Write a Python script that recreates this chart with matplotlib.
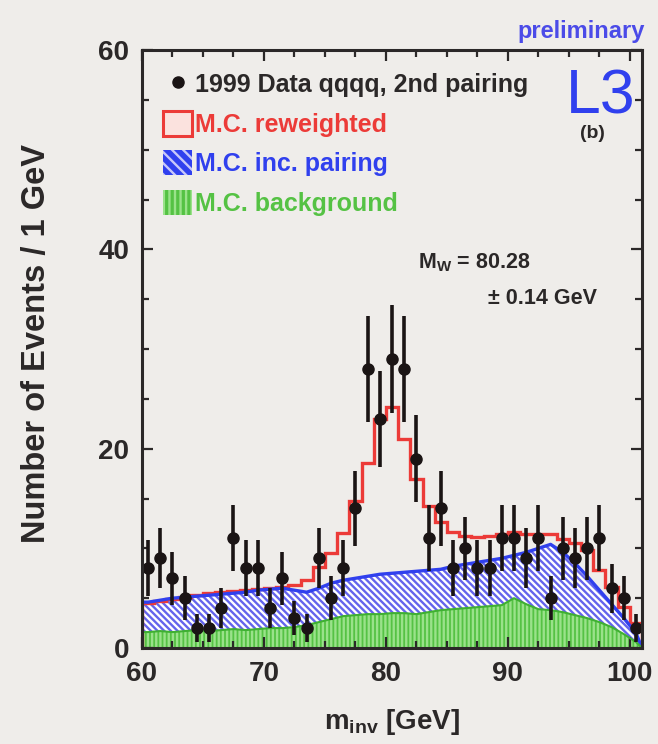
import numpy as np
import matplotlib
matplotlib.use("Agg")
import matplotlib.pyplot as plt
from matplotlib.patches import Patch
from matplotlib.lines import Line2D

plt.rcParams['font.family'] = ['Liberation Sans', 'DejaVu Sans']
plt.rcParams['mathtext.fontset'] = 'custom'
plt.rcParams['mathtext.rm'] = 'Liberation Sans:bold'
plt.rcParams['mathtext.bf'] = 'Liberation Sans:bold'
plt.rcParams['hatch.linewidth'] = 1.7

# 1 GeV bins from 60 to 101 GeV
edges = np.arange(60, 102, 1)
centers = edges[:-1] + 0.5

# data, 2nd pairing
counts = [8, 9, 7, 5, 2, 2, 4, 11, 8, 8, 4, 7, 3, 2, 9, 5, 8, 14, 28, 23,
          29, 28, 19, 11, 14, 8, 10, 8, 8, 11, 11, 9, 11, 5, 10, 9, 10, 11, 6, 5, 2]

# M.C. reweighted (total)
mc_rew = [4.5, 4.7, 4.9, 5.1, 5.3, 5.5, 5.6, 5.7, 5.8, 5.9, 6.0, 6.1, 6.3, 6.8, 8.1,
          9.5, 11.5, 14.8, 18.6, 23.0, 24.2, 21.0, 17.0, 14.2, 12.6, 11.6, 11.2, 11.1,
          11.2, 11.4, 11.6, 11.4, 11.4, 11.4, 10.9, 10.5, 9.8, 7.8, 6.1, 4.1, 2.5]

# M.C. incorrect pairing (stacked on background)
mc_inc = [4.6, 4.8, 5.0, 5.1, 5.2, 5.3, 5.4, 5.5, 5.6, 5.8, 5.9, 6.0, 5.8, 5.6, 6.0,
          6.5, 6.8, 7.0, 7.2, 7.4, 7.5, 7.6, 7.7, 7.8, 7.9, 8.2, 8.4, 8.6, 8.8, 9.0,
          9.3, 9.6, 10.0, 10.4, 9.6, 8.5, 7.2, 5.8, 4.4, 3.0, 1.5]

# M.C. background
mc_bkg = [1.6, 1.7, 1.6, 1.7, 1.8, 1.7, 1.8, 1.9, 1.8, 1.9, 2.0, 2.0, 2.1, 2.3, 2.6,
          2.9, 3.2, 3.3, 3.4, 3.4, 3.5, 3.5, 3.4, 3.6, 3.8, 3.9, 4.0, 4.1, 4.2, 4.3,
          5.0, 4.4, 3.9, 3.8, 3.6, 3.3, 3.0, 2.6, 2.1, 1.4, 0.6]

counts = np.array(counts)
mc_rew = np.array(mc_rew)
mc_inc = np.array(mc_inc)
mc_bkg = np.array(mc_bkg)

bg = '#efedea'
red = '#ec3b38'
blue = '#3040ee'
hatch_blue = '#6464ec'
green = '#55c244'
hatch_green = '#9ae28a'
ink = '#2b2828'

fig = plt.figure(figsize=(6.58, 7.44), dpi=100, facecolor=bg)
ax = fig.add_axes([0.2158, 0.129, 0.760, 0.8038], facecolor=bg)

# MC shapes drawn through bin centres
xs = np.concatenate([[edges[0]], centers, [edges[-1]]])
inc_y = np.concatenate([[mc_inc[0]], mc_inc, [0]])
bkg_y = np.concatenate([[mc_bkg[0]], mc_bkg, [0]])

ax.fill_between(xs, 0, inc_y, facecolor='white', edgecolor=hatch_blue,
                hatch='\\' * 5, linewidth=0)
ax.plot(xs, inc_y, color=blue, lw=2.4)
ax.fill_between(xs, 0, bkg_y, facecolor=green, edgecolor=hatch_green,
                hatch='|' * 4, linewidth=0)
ax.plot(xs, bkg_y, color='#3fb032', lw=1.5)

# reweighted histogram outline
ax.stairs(mc_rew, edges, color=red, lw=2.4, baseline=0)

# data points
ax.errorbar(centers, counts, yerr=np.sqrt(counts), fmt='o', color='#1a1414',
            ms=8, elinewidth=2.6, capsize=0)

ax.set_xlim(60, 101)
ax.set_ylim(0, 60)
ax.set_xticks([60, 70, 80, 90, 100])
ax.set_xticks(np.arange(60, 100.1, 2.5), minor=True)
ax.set_yticks([0, 20, 40, 60])
ax.set_yticks(np.arange(0, 61, 5), minor=True)
ax.tick_params(which='both', direction='in', top=True, right=True, colors=ink,
               width=1.6, labelsize=20, pad=9)
ax.tick_params(which='major', length=8)
ax.tick_params(which='minor', length=5)
for lab in ax.get_xticklabels() + ax.get_yticklabels():
    lab.set_fontweight('bold')
for s in ax.spines.values():
    s.set_linewidth(2.2)
    s.set_color(ink)

ax.set_xlabel(r'm$_{\mathrm{inv}}$ [GeV]', fontsize=20, fontweight='bold', color=ink)
ax.set_ylabel('Number of Events / 1 GeV', fontsize=23.5, fontweight='bold', color=ink)
ax.xaxis.set_label_coords(0.5, -0.098)
ax.yaxis.set_label_coords(-0.18, 0.51)

handles = [
    Line2D([], [], marker='o', ls='none', color='#1a1414', ms=8),
    Patch(facecolor='#fbe2de', edgecolor=red, lw=2.2),
    Patch(facecolor=blue, edgecolor='#c8c8fa', hatch='\\' * 3, lw=0),
    Patch(facecolor=green, edgecolor=hatch_green, hatch='|' * 3, lw=0),
]
labels = ['1999 Data qqqq, 2nd pairing', 'M.C. reweighted',
          'M.C. inc. pairing', 'M.C. background']
leg = ax.legend(handles, labels, loc='upper left', frameon=False,
                prop={'size': 18, 'weight': 'bold'}, handlelength=1.15,
                handleheight=1.15, handletextpad=0.12, labelspacing=0.55,
                borderpad=0.75, borderaxespad=0.1)
for t, c in zip(leg.get_texts(), [ink, red, blue, green]):
    t.set_color(c)

ax.text(0.986, 0.97, 'L3', transform=ax.transAxes, ha='right', va='top',
        fontsize=45, color=blue)
ax.text(0.9, 0.86, '(b)', transform=ax.transAxes, ha='center', va='center',
        fontsize=14, fontweight='bold', color=ink)
ax.text(0.552, 0.645, r'M$_{\mathrm{W}}$ = 80.28', transform=ax.transAxes,
        va='center', fontsize=15.5, fontweight='bold', color=ink)
ax.text(0.692, 0.585, '± 0.14 GeV', transform=ax.transAxes,
        va='center', fontsize=15.5, fontweight='bold', color=ink)
fig.text(0.98, 0.957, 'preliminary', ha='right', va='center', fontsize=17,
         fontweight='bold', color='#4b4be8')

fig.savefig('out.png', dpi=100, facecolor=bg)
